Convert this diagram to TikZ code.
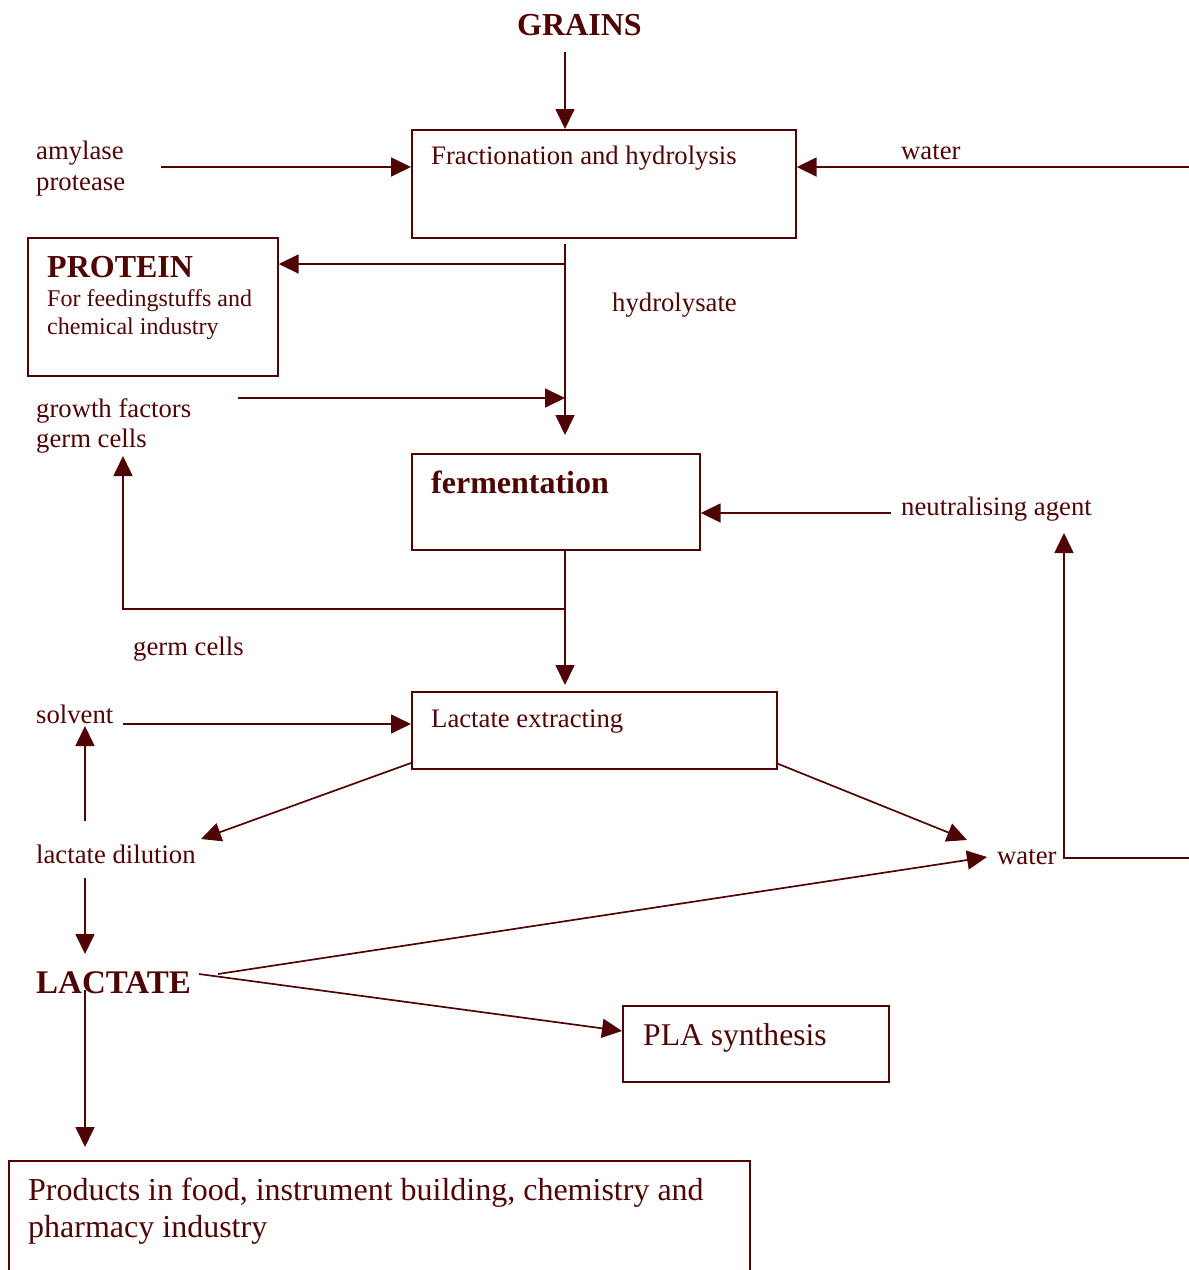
\documentclass[tikz,border=0pt]{standalone}
\usepackage{fontspec}
\setmainfont{Liberation Serif}
\usetikzlibrary{arrows.meta}
\definecolor{maroon}{RGB}{80,5,5}
\begin{document}
\begin{tikzpicture}[x=1pt,y=-1pt,
  line/.style={draw=maroon,line width=1.7pt},
  arr/.style={line,-{Triangle[length=20pt,width=19pt]}},
  box/.style={draw=maroon,line width=1.7pt,inner sep=0pt,anchor=north west},
  lbl/.style={text=maroon,inner sep=0pt,anchor=base west,font=\fontsize{26.7}{30}\selectfont},
  sml/.style={text=maroon,inner sep=0pt,anchor=base west,font=\fontsize{24}{28}\selectfont},
  lrg/.style={text=maroon,inner sep=0pt,anchor=base west,font=\fontsize{31.6}{36}\selectfont},
  big/.style={text=maroon,inner sep=0pt,anchor=base west,font=\fontsize{32}{36}\selectfont\bfseries}]
\useasboundingbox (0,0) rectangle (1189,1270);

% boxes
\node[box,minimum width=384pt,minimum height=108pt] (frac) at (411,129) {};
\node[box,minimum width=250pt,minimum height=138pt] (protein) at (27,237) {};
\node[box,minimum width=288pt,minimum height=96pt] (ferm) at (411,453) {};
\node[box,minimum width=365pt,minimum height=77pt] (lex) at (411,691) {};
\node[box,minimum width=266pt,minimum height=76pt] (pla) at (622,1005) {};
\node[box,minimum width=741pt,minimum height=120pt] (prod) at (8,1160) {};

% texts
\node[big] (grains) at (517,35) {GRAINS};
\node[lbl] (fractxt) at (431,164) {Fractionation and hydrolysis};
\node[lbl] (amylase) at (36,159) {amylase};
\node[lbl] (protease) at (36,190) {protease};
\node[lbl] (water1) at (901,159) {water};
\node[big] (proteintxt) at (47,277) {PROTEIN};
\node[sml] (feed) at (47,306) {For feedingstuffs and};
\node[sml] (chem) at (47,334) {chemical industry};
\node[lbl] (hydro) at (612,311) {hydrolysate};
\node[lbl] (growth) at (36,417) {growth factors};
\node[lbl] (germ1) at (36,447) {germ cells};
\node[big] (fermtxt) at (431,493) {fermentation};
\node[lbl] (neutr) at (901,515) {neutralising agent};
\node[lbl] (germ2) at (133,655) {germ cells};
\node[lbl] (lextxt) at (431,727) {Lactate extracting};
\node[lbl] (solvent) at (36,723) {solvent};
\node[lbl] (dilution) at (36,863) {lactate dilution};
\node[lbl] (water2) at (997,864) {water};
\node[big,font=\fontsize{33}{36}\selectfont\bfseries] (lactate) at (36,993) {LACTATE};
\node[lrg] (platxt) at (643,1045) {PLA synthesis};
\node[lrg,font=\fontsize{32}{36}\selectfont] (prod1) at (28,1200) {Products in food, instrument building, chemistry and};
\node[lrg,font=\fontsize{32}{36}\selectfont] (prod2) at (28,1237) {pharmacy industry};

% free ends
\coordinate (g1) at (565,52);
\coordinate (a1) at (161,167);
\coordinate (w1) at (1189,167);
\coordinate (h0) at (565,244);
\coordinate (h1) at (565,264);
\coordinate (h2) at (565,435);
\coordinate (gf) at (238,398);
\coordinate (f0) at (565,549);
\coordinate (f1) at (565,609);
\coordinate (f2) at (565,685);
\coordinate (gc) at (123,456);
\coordinate (n1) at (891,513);
\coordinate (s1) at (123,724);
\coordinate (d0) at (85,821);
\coordinate (d1) at (85,726);
\coordinate (l0) at (411,763);
\coordinate (l1) at (201,839);
\coordinate (r0) at (776,763);
\coordinate (r1) at (967,840);
\coordinate (w2a) at (1189,858);
\coordinate (w2b) at (1064,533);
\coordinate (d2) at (85,878);
\coordinate (d3) at (85,954);
\coordinate (la) at (218,974);
\coordinate (lb) at (987,857);
\coordinate (lc) at (199,974);
\coordinate (ld) at (622,1031);
\coordinate (le) at (85,990);
\coordinate (lf) at (85,1147);

% connectors
\draw[arr] (g1) -- (g1 |- frac.north);
\draw[arr] (a1) -- (a1 -| frac.west);
\draw[arr] (w1) -- (w1 -| frac.east);
\draw[arr] (h0) -- (h2);
\draw[arr] (h1) -- (h1 -| protein.east);
\draw[arr] (gf) -- (gf -| h0);
\draw[arr] (f0) -- (f2);
\draw[arr] (f1) -| (gc);
\draw[arr] (n1) -- (n1 -| ferm.east);
\draw[arr] (s1) -- (s1 -| lex.west);
\draw[arr] (d0) -- (d1);
\draw[arr] (l0) -- (l1);
\draw[arr] (r0) -- (r1);
\draw[arr] (w2a) -| (w2b);
\draw[arr] (d2) -- (d3);
\draw[arr] (la) -- (lb);
\draw[arr] (lc) -- (ld);
\draw[arr] (le) -- (lf);
\end{tikzpicture}
\end{document}
